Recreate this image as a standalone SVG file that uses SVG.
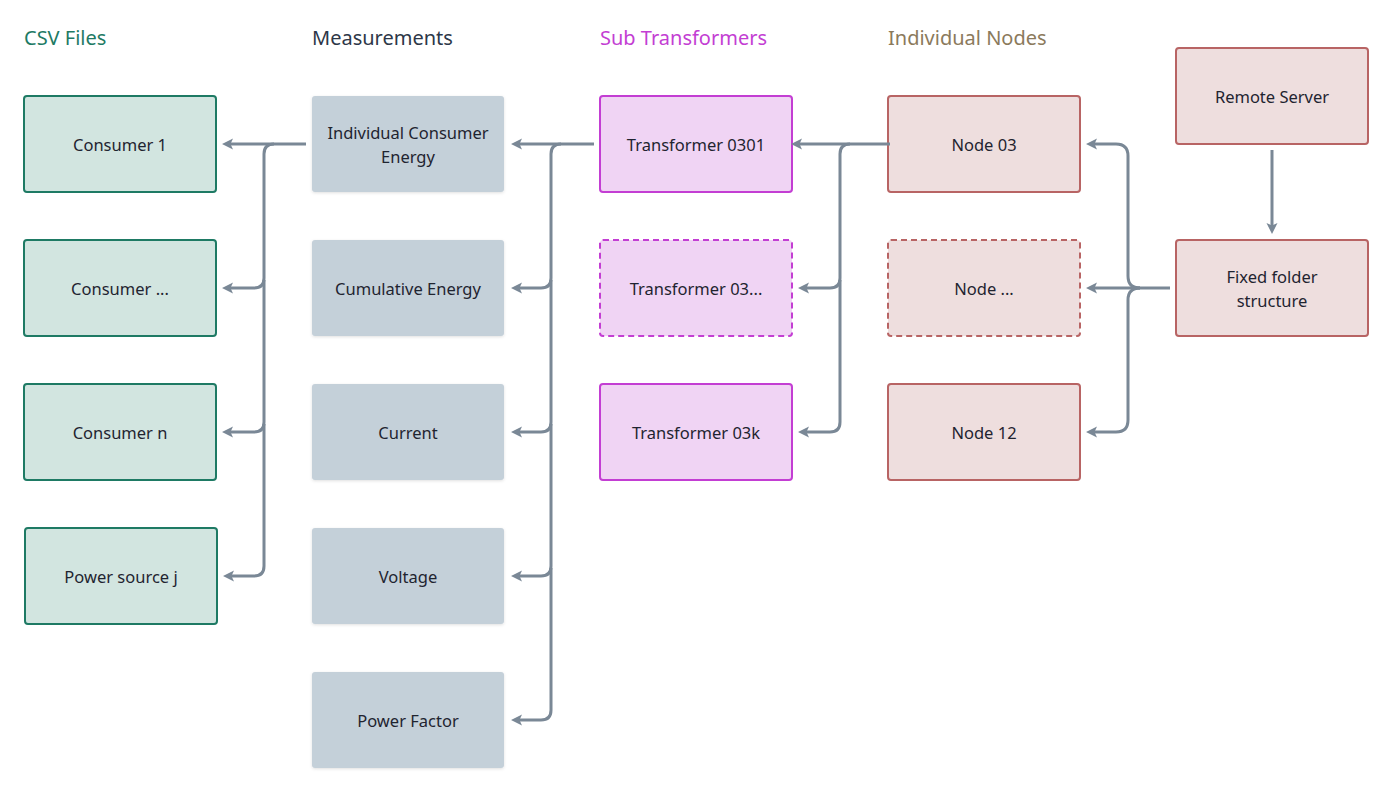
<svg xmlns="http://www.w3.org/2000/svg" width="1392" height="792" viewBox="0 0 1392 792">
<defs>
<filter id="sh" x="-10%" y="-10%" width="120%" height="130%">
<feDropShadow dx="0" dy="1" stdDeviation="1.5" flood-color="#000" flood-opacity="0.12"/>
</filter>
<marker id="ah" markerUnits="userSpaceOnUse" markerWidth="13" markerHeight="13" viewBox="0 0 13 13" refX="7" refY="6.5" orient="auto">
<path d="M0,1 L11,6.5 L0,12 L2.5,6.5 Z" fill="#7a8896"/>
</marker>
</defs>
<style>
text{font-family:"Noto Sans","Liberation Sans",sans-serif;}
.hd{font-size:20px;}
.lb{font-size:16.5px;fill:#1f2430;text-anchor:middle;dominant-baseline:central;}
.csv{fill:#d2e5e0;stroke:#1e7a64;stroke-width:2;}
.ms{fill:#c4d0d9;filter:url(#sh);}
.tr{fill:#f0d4f4;stroke:#c33ed3;stroke-width:2;}
.nd{fill:#eedede;stroke:#b86464;stroke-width:2;}
.dash{stroke-dasharray:6 4;}
.cn{fill:none;stroke:#7a8896;stroke-width:3;stroke-linecap:butt;}
.ar{marker-end:url(#ah);}
</style>
<rect width="1392" height="792" fill="#ffffff"/>

<g id="headers">
<text class="hd" x="24" y="45" fill="#1e7a64">CSV Files</text>
<text class="hd" x="312" y="45" fill="#2d3748">Measurements</text>
<text class="hd" x="600" y="45" fill="#c33ed3">Sub Transformers</text>
<text class="hd" x="888" y="45" fill="#8b7a5c">Individual Nodes</text>
</g>

<g id="consumer1"><rect class="csv" x="24" y="96" width="192" height="96" rx="3"/><text class="lb" x="120" y="144">Consumer 1</text></g>
<g id="consumerdots"><rect class="csv" x="24" y="240" width="192" height="96" rx="3"/><text class="lb" x="120" y="288">Consumer ...</text></g>
<g id="consumern"><rect class="csv" x="24" y="384" width="192" height="96" rx="3"/><text class="lb" x="120" y="432">Consumer n</text></g>
<g id="powersource"><rect class="csv" x="25" y="528" width="192" height="96" rx="3"/><text class="lb" x="121" y="576">Power source j</text></g>

<g id="m_ice"><rect class="ms" x="312" y="96" width="192" height="96" rx="3"/><text class="lb" x="408" y="132">Individual Consumer</text><text class="lb" x="408" y="156">Energy</text></g>
<g id="m_cum"><rect class="ms" x="312" y="240" width="192" height="96" rx="3"/><text class="lb" x="408" y="288">Cumulative Energy</text></g>
<g id="m_cur"><rect class="ms" x="312" y="384" width="192" height="96" rx="3"/><text class="lb" x="408" y="432">Current</text></g>
<g id="m_vol"><rect class="ms" x="312" y="528" width="192" height="96" rx="3"/><text class="lb" x="408" y="576">Voltage</text></g>
<g id="m_pf"><rect class="ms" x="312" y="672" width="192" height="96" rx="3"/><text class="lb" x="408" y="720">Power Factor</text></g>

<g id="t0301"><rect class="tr" x="600" y="96" width="192" height="96" rx="3"/><text class="lb" x="696" y="144">Transformer 0301</text></g>
<g id="t03dots"><rect class="tr dash" x="600" y="240" width="192" height="96" rx="3"/><text class="lb" x="696" y="288">Transformer 03...</text></g>
<g id="t03k"><rect class="tr" x="600" y="384" width="192" height="96" rx="3"/><text class="lb" x="696" y="432">Transformer 03k</text></g>

<g id="node03"><rect class="nd" x="888" y="96" width="192" height="96" rx="3"/><text class="lb" x="984" y="144">Node 03</text></g>
<g id="nodedots"><rect class="nd dash" x="888" y="240" width="192" height="96" rx="3"/><text class="lb" x="984" y="288">Node ...</text></g>
<g id="node12"><rect class="nd" x="888" y="384" width="192" height="96" rx="3"/><text class="lb" x="984" y="432">Node 12</text></g>

<g id="remote"><rect class="nd" x="1176" y="48" width="192" height="96" rx="3"/><text class="lb" x="1272" y="96">Remote Server</text></g>
<g id="fixed"><rect class="nd" x="1176" y="240" width="192" height="96" rx="3"/><text class="lb" x="1272" y="276">Fixed folder</text><text class="lb" x="1272" y="300">structure</text></g>

<g id="connectors">
<path class="cn ar" d="M306,144 H226"/>
<path class="cn ar" d="M274,144 Q264,144 264,154 V278 Q264,288 254,288 H226"/>
<path class="cn ar" d="M264,280 V422 Q264,432 254,432 H226"/>
<path class="cn ar" d="M264,424 V566 Q264,576 254,576 H227"/>

<path class="cn ar" d="M594,144 H515"/>
<path class="cn ar" d="M561,144 Q551,144 551,154 V278 Q551,288 541,288 H515"/>
<path class="cn ar" d="M551,280 V422 Q551,432 541,432 H515"/>
<path class="cn ar" d="M551,424 V566 Q551,576 541,576 H515"/>
<path class="cn ar" d="M551,568 V710 Q551,720 541,720 H515"/>

<path class="cn ar" d="M890,144 H795"/>
<path class="cn ar" d="M850,144 Q840,144 840,154 V278 Q840,288 830,288 H802"/>
<path class="cn ar" d="M840,280 V422 Q840,432 830,432 H802"/>

<path class="cn ar" d="M1170,288 H1090"/>
<path class="cn ar" d="M1140,288 Q1128,288 1128,276 V156 Q1128,144 1116,144 H1090"/>
<path class="cn ar" d="M1140,288 Q1128,288 1128,300 V420 Q1128,432 1116,432 H1090"/>

<path class="cn ar" d="M1272,150 V230"/>
</g>
</svg>
